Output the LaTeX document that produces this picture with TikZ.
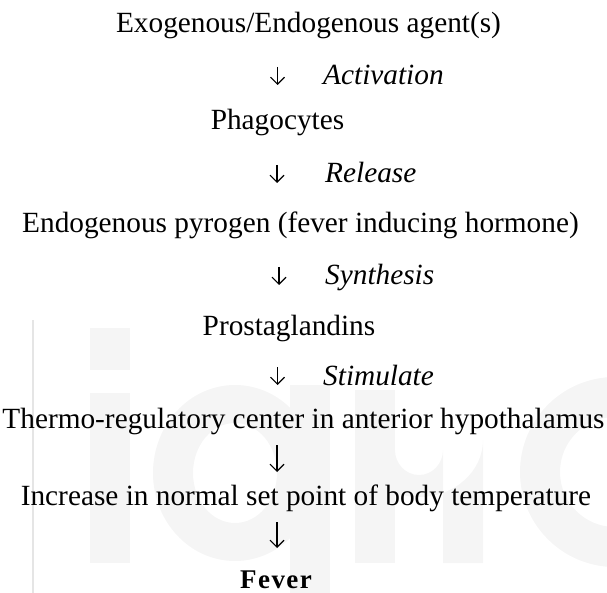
\documentclass[tikz,border=0pt]{standalone}
\usepackage{fontspec}
\setmainfont{Liberation Serif}
\usepackage{tikz}
\usetikzlibrary{arrows.meta, positioning}

\begin{document}
\begin{tikzpicture}[
        x=1pt, y=-1pt,
        every node/.style={inner sep=0pt, anchor=base, font=\fontsize{29.3}{34}\selectfont},
        act/.style={font=\fontsize{29.3}{34}\selectfont\itshape, anchor=base west},
        flow/.style={-{Straight Barb[length=7pt, width=14pt, line width=1.1pt]}, line width=1.1pt}
    ]

    \useasboundingbox (0,0) rectangle (607,593);

    % faint watermark behind the text
    \draw[black!10, line width=1.5pt] (33,320) -- (33,593);
    \fill[black!4] (90,328) rectangle (130,370);
    \fill[black!4] (90,393) rectangle (130,563);
    \fill[black!4, even odd rule] (235,473) ellipse [x radius=82, y radius=88]
        (235,473) ellipse [x radius=42, y radius=50];
    \fill[black!4] (290,385) rectangle (330,593);
    \fill[black!4] (355,390) rectangle (395,563);
    \fill[black!4, even odd rule] (355,470) -- (355,440) arc[start angle=180, end angle=0, x radius=64, y radius=57]
        -- (483,563) -- (443,563) -- (443,450) arc[start angle=0, end angle=180, x radius=24, y radius=25] -- cycle;
    \fill[black!4, even odd rule] (615,472) circle[radius=95] (615,472) circle[radius=55];

    \node (agent) at (308.5,33) {Exogenous/Endogenous agent(s)};
    \node[act] (activation) at (323,85) {Activation};
    \node (phago) at (277.5,130) {Phagocytes};
    \node[act] (release) at (325,183) {Release};
    \node (pyrogen) at (300.5,233) {Endogenous pyrogen (fever inducing hormone)};
    \node[act] (synthesis) at (325,285) {Synthesis};
    \node (prosta) at (289,335) {Prostaglandins};
    \node[act] (stimulate) at (323,385) {Stimulate};
    \node (thermo) at (303.5,428) {Thermo-regulatory center in anterior hypothalamus};
    \node (increase) at (306,505) {Increase in normal set point of body temperature};
    \node[font=\fontsize{27}{32}\selectfont\bfseries] (fever) at (276,588) {F\kern1.5pt e\kern1.5pt v\kern1.5pt e\kern1.5pt r};

    % short down arrows between the rows
    \coordinate (a1) at (277.5,67);  \coordinate (b1) at (277.5,85);
    \coordinate (a2) at (277,165);   \coordinate (b2) at (277,183);
    \coordinate (a3) at (279,267);   \coordinate (b3) at (279,285);
    \coordinate (a4) at (277.5,367); \coordinate (b4) at (277.5,385);
    \coordinate (a5) at (277,445);   \coordinate (b5) at (277,472);
    \coordinate (a6) at (277,522);   \coordinate (b6) at (277,548);

    \draw[flow] (a1) -- (b1);
    \draw[flow] (a2) -- (b2);
    \draw[flow] (a3) -- (b3);
    \draw[flow] (a4) -- (b4);
    \draw[flow] (a5) -- (b5);
    \draw[flow] (a6) -- (b6);
\end{tikzpicture}
\end{document}
